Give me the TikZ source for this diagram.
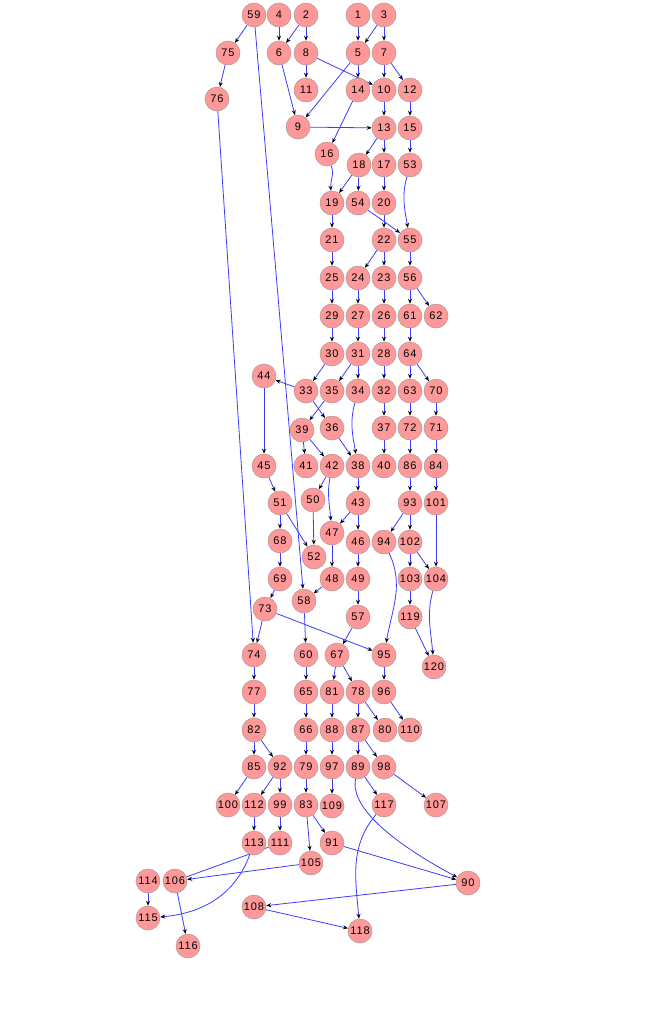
\documentclass[tikz,border=0pt]{standalone}
\usepackage{fontspec}
\newfontfamily\nodefont{Liberation Sans}[LetterSpace=8]
\usetikzlibrary{arrows.meta,backgrounds}
\definecolor{nodefill}{RGB}{255,153,153}
\definecolor{nodeline}{RGB}{170,150,150}
\definecolor{edgeblue}{RGB}{60,60,255}
\tikzset{
  vtx/.style={circle,fill=nodefill,draw=nodeline,line width=0.5pt,minimum size=24pt,inner sep=0pt,font=\nodefont\fontsize{11}{11}\selectfont},
  edg/.style={draw=edgeblue,line width=0.8pt,-{Stealth[black,length=5pt,width=4pt]}},
  plain/.style={draw=edgeblue,line width=0.8pt}
}
\begin{document}
\begin{tikzpicture}[x=1pt,y=-1pt]
\useasboundingbox (0,0) rectangle (665,1034);
\foreach \n/\x/\y in {
1/358/15, 2/306/15, 3/384/15, 4/279/15, 5/358/53, 6/279/53, 7/384/53, 8/306/53,
9/298/127, 10/384/90, 11/306/90, 12/410/90, 13/384/128, 14/358/90, 15/410/128,
16/327/154, 17/384/165, 18/359/165, 19/332/203, 20/384/203, 21/332/240, 22/384/240,
23/384/278, 24/358/278, 25/332/278, 26/384/316, 27/358/316, 28/384/354, 29/332/316,
30/332/354, 31/358/354, 32/384/391, 33/306/391, 34/358/391, 35/332/391, 36/332/428,
37/384/428, 38/358/466, 39/302/430, 40/384/466, 41/306/466, 42/332/466, 43/358/503,
44/264/376, 45/264/466, 46/358/542, 47/332/533, 48/332/579, 49/358/579, 50/313/500,
51/280/503, 52/314/557, 53/410/165, 54/358/203, 55/410/240, 56/410/278, 57/358/617,
58/304/601, 59/254/15, 60/306/655, 61/410/316, 62/436/316, 63/410/391, 64/410/354,
65/306/692, 66/306/730, 67/337/655, 68/280/541, 69/280/579, 70/436/391, 71/436/428,
72/410/428, 73/265/609, 74/254/655, 75/228/53, 76/217/99, 77/254/692, 78/358/692,
79/306/767, 80/385/730, 81/332/692, 82/254/730, 83/306/805, 84/436/466, 85/254/767,
86/410/466, 87/358/730, 88/332/730, 89/358/767, 90/468/883, 91/332/843, 92/280/767,
93/410/503, 94/384/542, 95/384/655, 96/384/692, 97/332/767, 98/384/767, 99/280/805,
100/228/805, 101/436/503, 102/410/542, 103/410/579, 104/436/579, 105/311/863,
106/175/881, 107/436/805, 108/254/907, 109/332/806, 110/410/730, 111/280/843,
112/254/805, 113/254/843, 114/148/881, 115/148/918, 116/188/946, 117/384/805,
118/360/931, 119/410/617, 120/434/667}
  \node[vtx] (n\n) at (\x,\y) {\n};
\begin{scope}[on background layer]
\foreach \a/\b in {
59/75, 59/58, 4/6, 2/6, 2/8, 1/5, 3/5, 3/7,
75/76, 76/74, 6/9, 5/9, 8/11, 8/10, 5/14, 7/10, 7/12,
14/16, 10/13, 12/15, 9/13, 13/18, 13/17, 15/53,
18/19, 18/54, 17/20, 19/21, 20/22, 54/55,
21/25, 22/24, 22/23, 55/56, 25/29, 24/27, 23/26, 56/61, 56/62,
29/30, 27/31, 26/28, 61/64, 30/33, 31/35, 31/34, 28/32, 64/63, 64/70,
33/44, 33/36, 35/39, 32/37, 63/72, 70/71,
39/41, 39/42, 36/38, 37/40, 72/86, 71/84,
44/45, 45/51, 42/50, 38/43, 86/93, 84/101,
43/47, 43/46, 93/94, 93/102, 101/104,
51/68, 51/52, 50/52, 68/69, 47/48, 46/49, 102/103, 102/104, 103/119, 119/120,
69/73, 48/58, 49/57, 73/74, 73/95, 58/60, 57/67,
74/77, 60/65, 67/81, 67/78, 95/96,
77/82, 65/66, 81/88, 78/87, 78/80, 96/110,
82/85, 82/92, 66/79, 88/97, 87/89, 87/98,
85/100, 92/112, 92/99, 79/83, 97/109, 89/117, 98/107,
112/113, 99/111, 83/105, 83/91,
105/106, 91/90, 114/115, 106/116, 90/108, 108/118}
  \draw[edg] (n\a) -- (n\b);
\draw[edg] (n16) to[out=-70,in=95] (n19);
\draw[edg] (n53) to[out=-105,in=100] (n55);
\draw[edg] (n34) to[out=-105,in=100] (n38);
\draw[edg] (n42) to[out=-100,in=95] (n47);
\draw[edg] (n94) to[out=-65,in=80] (n95);
\draw[edg] (n104) to[out=-105,in=95] (n120);
\draw[edg] (n89) .. controls +(-9,45) and +(-60,-32) .. (n90);
\draw[edg] (n117) to[out=-130,in=95] (n118);
\draw[edg] (n113) to[out=-110,in=5] (n115);
\draw[plain] (n106) -- (n111);
\end{scope}
\end{tikzpicture}
\end{document}
